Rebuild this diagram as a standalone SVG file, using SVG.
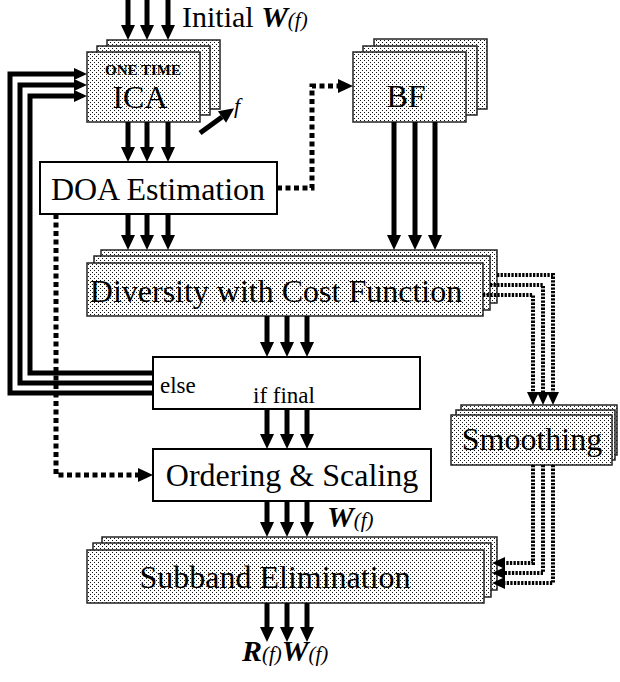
<svg xmlns="http://www.w3.org/2000/svg" width="620" height="682" viewBox="0 0 620 682">
  <defs>
    <pattern id="stipple" width="4" height="4" patternUnits="userSpaceOnUse">
      <rect width="4" height="4" fill="#ffffff"/>
      <rect x="0" y="0" width="1" height="1" fill="#111111"/>
      <rect x="2" y="2" width="1" height="1" fill="#111111"/>
    </pattern>
    <marker id="head" markerUnits="userSpaceOnUse" markerWidth="16" markerHeight="16" refX="0" refY="0" viewBox="0 -8 16 16" orient="auto" overflow="visible">
      <path d="M0,-7 L15,0 L0,7 z" fill="#000"/>
    </marker>
    <marker id="headS" markerUnits="userSpaceOnUse" markerWidth="14" markerHeight="14" refX="0" refY="0" viewBox="0 -7 14 14" orient="auto" overflow="visible">
      <path d="M0,-6 L13,0 L0,6 z" fill="#000"/>
    </marker>
  </defs>
  <style>
    .box { fill: #ffffff; stroke: #000; stroke-width: 2; }
    .pat { fill: url(#stipple); stroke: #222; stroke-width: 1.5; }
    .lbl { font-family: "Liberation Serif", "Times New Roman", serif; font-size: 32px; fill: #000; }
    .sig { font-family: "Liberation Serif", "Times New Roman", serif; font-size: 30px; fill: #000; }
    .sub { font-style: italic; font-size: 21px; }
    .sm { font-family: "Liberation Serif", "Times New Roman", serif; font-size: 23px; fill: #000; }
    .bi { font-style: italic; font-weight: bold; }
    .arr { stroke: #000; stroke-width: 5; fill: none; marker-end: url(#head); }
    .fb { stroke: #000; stroke-width: 5; fill: none; marker-end: url(#headS); }
    .dot { stroke: #000; stroke-width: 5; fill: none; stroke-dasharray: 5 3.5; marker-end: url(#head); }
    .fine { stroke: #000; stroke-width: 4; fill: none; stroke-dasharray: 2.3 1.3; marker-end: url(#headS); }
  </style>

  <!-- ICA stack -->
  <g id="ica">
    <rect class="pat" x="107" y="40" width="113" height="69"/>
    <rect class="pat" x="97" y="46" width="113" height="69"/>
    <rect class="pat" x="87" y="52" width="113" height="70"/>
    <text x="143" y="75" text-anchor="middle" font-family="Liberation Serif, Times New Roman, serif" font-size="15" font-weight="bold">ONE TIME</text>
    <text class="lbl" x="140" y="108" text-anchor="middle">ICA</text>
  </g>

  <!-- BF stack -->
  <g id="bf">
    <rect class="pat" x="374" y="39" width="113" height="70"/>
    <rect class="pat" x="363" y="46" width="114" height="69"/>
    <rect class="pat" x="353" y="52" width="113" height="70"/>
    <text class="lbl" x="406" y="107" text-anchor="middle">BF</text>
  </g>

  <!-- DOA estimation -->
  <g id="doa">
    <rect class="box" x="40" y="162" width="237" height="52"/>
    <text class="lbl" x="158" y="200" text-anchor="middle">DOA Estimation</text>
  </g>

  <!-- Diversity with cost function stack -->
  <g id="diversity">
    <rect class="pat" x="101" y="250" width="396" height="53"/>
    <rect class="pat" x="94" y="256" width="396" height="54"/>
    <rect class="pat" x="87" y="263" width="396" height="53"/>
    <text class="lbl" x="276" y="302" text-anchor="middle">Diversity with Cost Function</text>
  </g>

  <!-- Decision box -->
  <g id="decision">
    <rect class="box" x="153" y="357" width="267" height="52"/>
    <text class="sm" x="160" y="393">else</text>
    <text class="sm" x="253" y="403">if final</text>
  </g>

  <!-- Smoothing stack -->
  <g id="smoothing">
    <rect class="pat" x="461" y="405" width="156" height="50"/>
    <rect class="pat" x="456" y="410" width="159" height="50"/>
    <rect class="pat" x="451" y="415" width="161" height="50"/>
    <text class="lbl" x="532" y="450" text-anchor="middle">Smoothing</text>
  </g>

  <!-- Ordering and scaling -->
  <g id="ordering">
    <rect class="box" x="153" y="449" width="278" height="52"/>
    <text class="lbl" x="292" y="486" text-anchor="middle">Ordering &amp; Scaling</text>
  </g>

  <!-- Subband elimination stack -->
  <g id="subband">
    <rect class="pat" x="102" y="537" width="395" height="53"/>
    <rect class="pat" x="93" y="543" width="398" height="54"/>
    <rect class="pat" x="87" y="550" width="397" height="53"/>
    <text class="lbl" x="275" y="588" text-anchor="middle">Subband Elimination</text>
  </g>

  <!-- Connectors -->
  <g id="connectors">
    <!-- initial input -->
    <path class="arr" d="M128,0 V25"/>
    <path class="arr" d="M147,0 V25"/>
    <path class="arr" d="M168,0 V25"/>
    <!-- ICA to DOA -->
    <path class="arr" d="M128,122 V147"/>
    <path class="arr" d="M147,122 V147"/>
    <path class="arr" d="M168,122 V147"/>
    <!-- DOA to diversity -->
    <path class="arr" d="M128,214 V235"/>
    <path class="arr" d="M147,214 V235"/>
    <path class="arr" d="M168,214 V235"/>
    <!-- BF to diversity -->
    <path class="arr" d="M394,122 V235"/>
    <path class="arr" d="M415,122 V235"/>
    <path class="arr" d="M435,122 V235"/>
    <!-- diversity to decision -->
    <path class="arr" d="M267,316 V342"/>
    <path class="arr" d="M287,316 V342"/>
    <path class="arr" d="M307,316 V342"/>
    <!-- decision to ordering -->
    <path class="arr" d="M267,409 V434"/>
    <path class="arr" d="M287,409 V434"/>
    <path class="arr" d="M307,409 V434"/>
    <!-- ordering to subband -->
    <path class="arr" d="M267,501 V522"/>
    <path class="arr" d="M287,501 V522"/>
    <path class="arr" d="M307,501 V522"/>
    <!-- output -->
    <path class="arr" d="M267,603 V627"/>
    <path class="arr" d="M287,603 V627"/>
    <path class="arr" d="M307,603 V627"/>
    <!-- frequency axis arrow -->
    <path class="arr" d="M200,133 L222,117"/>

    <!-- feedback loop back to ICA -->
    <path class="fb" d="M153,393 H10 V74 H74"/>
    <path class="fb" d="M153,383 H20 V85 H74"/>
    <path class="fb" d="M153,373 H30 V96 H74"/>

    <!-- DOA to BF -->
    <path class="dot" d="M277,188 H312 V86 H338"/>
    <!-- DOA to ordering -->
    <path class="dot" d="M56,214 V475 H138"/>

    <!-- diversity to smoothing -->
    <path class="fine" d="M497,275 H553 V392"/>
    <path class="fine" d="M490,285 H543 V392"/>
    <path class="fine" d="M483,295 H533 V392"/>
    <!-- smoothing to subband -->
    <path class="fine" d="M533,465 V563 H505"/>
    <path class="fine" d="M543,465 V573 H505"/>
    <path class="fine" d="M553,465 V583 H505"/>
  </g>

  <!-- Signal labels -->
  <text class="sig" x="182" y="27">Initial <tspan class="bi">W</tspan><tspan class="sub">(f)</tspan></text>
  <text class="sig" x="234" y="113" style="font-style:italic;font-size:22px">f</text>
  <text class="sig" x="327" y="527"><tspan class="bi">W</tspan><tspan class="sub">(f)</tspan></text>
  <text class="sig" x="242" y="661"><tspan class="bi">R</tspan><tspan class="sub">(f)</tspan><tspan class="bi">W</tspan><tspan class="sub">(f)</tspan></text>
</svg>
